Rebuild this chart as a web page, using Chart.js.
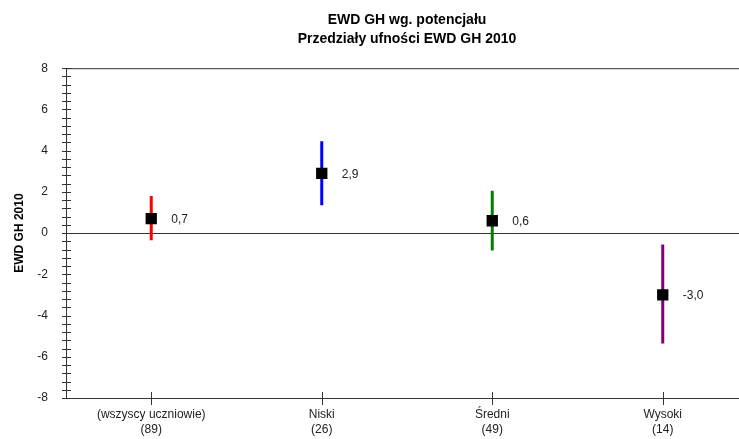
<!DOCTYPE html>
<html>
<head>
<meta charset="utf-8">
<script src="https://cdn.jsdelivr.net/npm/chart.js@4/dist/chart.umd.min.js"></script>
<style>
  html, body { margin: 0; padding: 0; background: #fff; overflow: hidden; }
  #wrap { width: 760px; height: 445px; }
</style>
</head>
<body>
<div id="wrap"><canvas id="chart"></canvas></div>
<script>
const categories = ['(wszyscy uczniowie)', 'Niski', 'Średni', 'Wysoki'];
const counts = [89, 26, 49, 14];
const values = [0.7, 2.9, 0.6, -3.0];
const lower = [-0.35, 1.35, -0.85, -5.35];
const upper = [1.8, 4.45, 2.05, -0.55];
const barColors = ['#ff0000', '#0000ff', '#008000', '#800080'];

const fmt = (v) => v.toFixed(1).replace('.', ',');

// przedzialy ufnosci - jedna linia na kategorie
const intervalSets = categories.map((c, i) => ({
  label: c,
  data: [{ x: i, y: lower[i] }, { x: i, y: upper[i] }],
  showLine: true,
  borderColor: barColors[i],
  borderWidth: 3,
  pointRadius: 0,
  order: 1
}));

const pointSet = {
  label: 'EWD',
  data: values.map((v, i) => ({ x: i, y: v })),
  pointStyle: 'rect',
  pointRadius: 8,
  backgroundColor: '#000',
  borderColor: '#000',
  borderWidth: 0,
  order: 0
};

const axisMarks = {
  id: 'axisMarks',
  afterDraw(chart) {
    const { ctx, chartArea: a, scales: { x, y } } = chart;
    ctx.save();
    ctx.strokeStyle = '#333';
    ctx.lineWidth = 1;
    ctx.strokeRect(a.left + 0.5, a.top + 0.5, a.right - a.left, a.bottom - a.top);
    ctx.beginPath();
    y.ticks.forEach((t) => {
      const py = Math.round(y.getPixelForValue(t.value)) + 0.5;
      ctx.moveTo(a.left - 4, py);
      ctx.lineTo(a.left + 5, py);
    });
    x.ticks.forEach((t) => {
      const px = Math.round(x.getPixelForValue(t.value)) + 0.5;
      ctx.moveTo(px, a.bottom - 6);
      ctx.lineTo(px, a.bottom + 7);
    });
    ctx.stroke();
    // etykiety wartosci
    ctx.fillStyle = '#222';
    ctx.font = '12px "Liberation Sans", Arial, sans-serif';
    ctx.textAlign = 'left';
    ctx.textBaseline = 'middle';
    values.forEach((v, i) => {
      ctx.fillText(fmt(v), x.getPixelForValue(i) + 20, y.getPixelForValue(v) + 1);
    });
    ctx.restore();
  }
};

new Chart(document.getElementById('chart'), {
  type: 'scatter',
  data: { datasets: [pointSet, ...intervalSets] },
  options: {
    responsive: true,
    maintainAspectRatio: false,
    animation: false,
    layout: { padding: { left: 0, right: 12, top: 0, bottom: 0 } },
    plugins: {
      legend: { display: false },
      tooltip: { enabled: false },
      title: {
        display: true,
        fullSize: false,
        text: ['EWD GH wg. potencjału', 'Przedziały ufności EWD GH 2010'],
        color: '#000',
        font: { family: '"Liberation Sans", Arial, sans-serif', size: 14, weight: 'bold', lineHeight: 1.4 },
        padding: { top: 10, bottom: 19 }
      }
    },
    scales: {
      x: {
        type: 'linear',
        min: -0.5,
        max: 3.5,
        afterBuildTicks: (scale) => {
          scale.ticks = categories.map((c, i) => ({ value: i }));
        },
        afterFit: (scale) => { scale.height = 47; },
        grid: { drawOnChartArea: false, drawTicks: false },
        border: { display: false },
        ticks: {
          autoSkip: false,
          maxRotation: 0,
          padding: 9,
          color: '#222',
          font: { family: '"Liberation Sans", Arial, sans-serif', size: 12, lineHeight: 1.25 },
          callback: (value) => [categories[value], '(' + counts[value] + ')']
        }
      },
      y: {
        min: -8,
        max: 8,
        afterFit: (scale) => { scale.width = 66; },
        grid: {
          drawTicks: false,
          color: (c) => (c.tick && Math.abs(c.tick.value) < 1e-6 ? '#333' : 'rgba(0,0,0,0)')
        },
        border: { display: false },
        title: {
          display: true,
          text: 'EWD GH 2010',
          color: '#000',
          font: { family: '"Liberation Sans", Arial, sans-serif', size: 12, weight: 'bold' },
          padding: { top: 12, bottom: 0 }
        },
        ticks: {
          stepSize: 0.4,
          maxTicksLimit: 100,
          autoSkip: false,
          padding: 18,
          color: '#222',
          font: { family: '"Liberation Sans", Arial, sans-serif', size: 12 },
          callback: (v) => (Math.round(v * 10) % 20 === 0 ? String(Math.round(v)) : '')
        }
      }
    }
  },
  plugins: [axisMarks]
});
</script>
</body>
</html>
